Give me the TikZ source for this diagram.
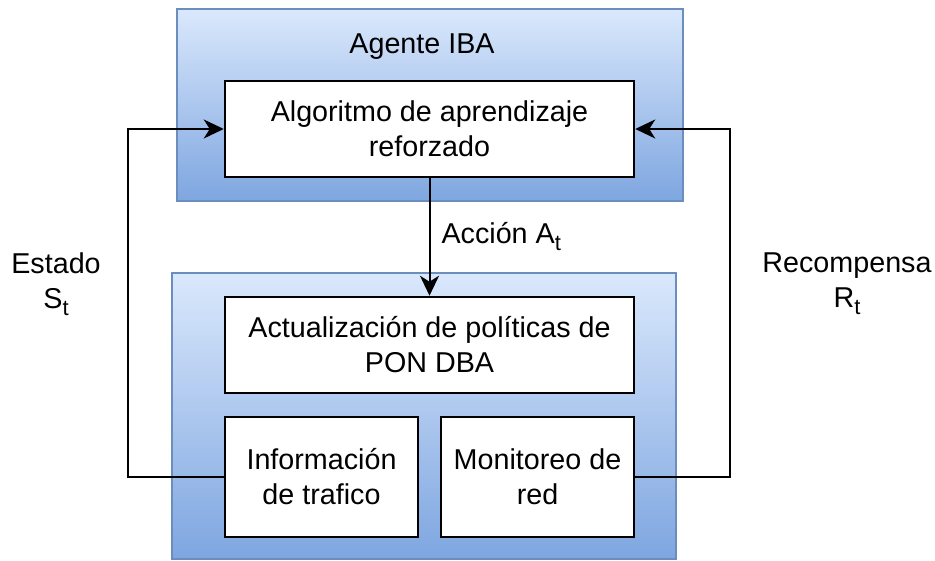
\documentclass[tikz,border=0pt]{standalone}
\usepackage{fontspec}
\setmainfont{Liberation Sans}
\usetikzlibrary{arrows.meta}
\definecolor{boxtop}{HTML}{DAE8FC}
\definecolor{boxbot}{HTML}{7EA6E0}
\definecolor{boxline}{HTML}{6C8EBF}
\newcommand{\subt}{\raisebox{-7pt}{\fontsize{22}{22}\selectfont t}}
\begin{document}
\begin{tikzpicture}[x=1pt, y=-1pt,
  every node/.style={font=\fontsize{28.7}{35}\selectfont, align=center},
  container/.style={rectangle, draw=boxline, line width=2pt, top color=boxtop, bottom color=boxbot, inner sep=0pt},
  box/.style={rectangle, draw=black, line width=2.5pt, fill=white, inner sep=0pt},
  flow/.style={line width=2pt, -{Stealth[length=20pt, width=19pt, inset=6pt]}}]
  \useasboundingbox (0,0) rectangle (935,561);

  \node[container, minimum width=506pt, minimum height=192pt] (agent) at (430,105) {};
  \node[container, minimum width=504pt, minimum height=286pt] (env) at (424,416) {};

  \node (agentlabel) at (422,47) {Agente IBA};
  \node[box, minimum width=409pt, minimum height=96pt] (algo) at (429.5,129) {Algoritmo de aprendizaje\\reforzado};
  \node[box, minimum width=409pt, minimum height=96pt] (update) at (429.5,345) {Actualización de políticas de\\PON DBA};
  \node[box, minimum width=193pt, minimum height=120pt] (info) at (321.5,477) {Información\\de trafico};
  \node[box, minimum width=193pt, minimum height=120pt] (monitor) at (537.5,477) {Monitoreo de\\red};

  \node (state) at (56,284) {Estado\\S\subt};
  \node (reward) at (847,284) {Recompensa\\R\subt};
  \node[anchor=west] (action) at (438,237) {Acción A\subt};

  \draw[flow] (algo) -- (update);
  \draw[flow] (info.west) -- ++(-96,0) |- (algo.west);
  \draw[flow] (monitor.east) -- ++(95,0) |- (algo.east);
\end{tikzpicture}
\end{document}
